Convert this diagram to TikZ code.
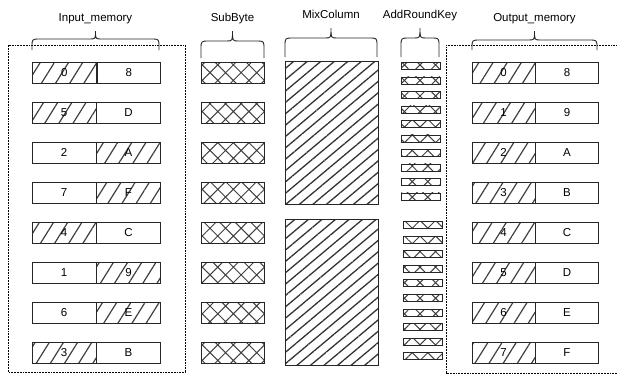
\documentclass[tikz,border=0pt]{standalone}
\usepackage{fontspec}
\setmainfont{Liberation Sans}
\usetikzlibrary{patterns.meta, positioning}

\tikzset{
  cellbox/.style={draw=black!85, line width=0.8pt, minimum width=63.5pt, minimum height=20.5pt, inner sep=0pt, anchor=north west},
  diaghatch/.style={pattern={Lines[angle=58, distance=12pt, line width=1.2pt]}, pattern color=black!75},
  nohatch/.style={fill=white},
  xhatch/.style={pattern={Hatch[angle=45, distance=11pt, line width=1pt]}, pattern color=black!75},
  mixblock/.style={draw=black!85, line width=0.8pt, minimum width=93pt, inner sep=0pt, anchor=north west,
    pattern={Lines[angle=40, distance=8.7pt, line width=1.3pt]}, pattern color=black!80},
  keycell/.style={draw=black!85, line width=0.8pt, xhatch, minimum width=38.5pt, minimum height=7pt, inner sep=0pt, anchor=north west},
  memframe/.style={draw=black, line width=0.6pt, dash pattern=on 1.8pt off 1pt},
  bracestroke/.style={draw=black!85, line width=0.9pt},
  stagelabel/.style={anchor=base},
}

% brace over a stage: x1, x2, y of the ends, y of the flat part, y of the tip, label name, text
\newcommand{\stagebrace}[7]{%
  \draw[bracestroke] (#1,#3) -- (#1,#4+8) .. controls (#1,#4) .. (#1+8,#4)
    -- ({(#1+#2)/2-6},#4) .. controls ({(#1+#2)/2},#4) .. ({(#1+#2)/2},#5)
    .. controls ({(#1+#2)/2},#4) .. ({(#1+#2)/2+6},#4)
    -- (#2-8,#4) .. controls (#2,#4) .. (#2,#4+8) -- (#2,#3);
  \node[stagelabel] (#6) at ({(#1+#2)/2},#5-10) {#7};%
}

\begin{document}
\begin{tikzpicture}[x=1pt, y=-1pt, every node/.style={font=\fontsize{11.5}{13}\selectfont}]

\useasboundingbox (0,0) rectangle (617,376);

% --- memory frames ---
\draw[memframe] (8,45) rectangle (185,372);
\draw[memframe] (618,45) -- (446,45) -- (446,373) -- (618,373);

% --- input memory ---
\foreach \l/\r/\sl/\sr [count=\i] in {
  0/8/diaghatch/nohatch, 5/D/diaghatch/nohatch,
  2/A/nohatch/diaghatch, 7/F/nohatch/diaghatch,
  4/C/diaghatch/nohatch, 1/9/nohatch/diaghatch,
  6/E/nohatch/diaghatch, 3/B/diaghatch/nohatch}
{
  \node[cellbox, \sl] (in-\i-l) at (32, 22+40*\i) {\l};
  \node[cellbox, \sr, right=0pt of in-\i-l] (in-\i-r) {\r};
}

% --- SubByte ---
\foreach \i in {1,...,8}
{
  \node[cellbox, xhatch, minimum width=63pt] (sb-\i) at (201, 22+40*\i) {};
}

% --- MixColumn ---
\node[mixblock, minimum height=143pt] (mc-1) at (285,61) {};
\node[mixblock, minimum height=146pt] (mc-2) at (285,219) {};

% --- AddRoundKey ---
\foreach \i in {0,...,9}
{
  \node[keycell] (ark-a\i) at (401, 62+14.5*\i) {};
  \node[keycell] (ark-b\i) at (403, 221+14.6*\i) {};
}

% --- output memory ---
\foreach \l/\r [count=\i] in {0/8, 1/9, 2/A, 3/B, 4/C, 5/D, 6/E, 7/F}
{
  \node[cellbox, diaghatch, minimum width=62.5pt] (out-\i-l) at (472, 22+40*\i) {\l};
  \node[cellbox, nohatch, minimum width=62.5pt, right=0pt of out-\i-l] (out-\i-r) {\r};
}

% --- braces and stage names ---
\stagebrace{32}{159}{50}{39}{31}{lbl-in}{Input\_memory}
\stagebrace{201}{264}{58}{41}{31}{lbl-sb}{SubByte}
\stagebrace{285}{377}{57}{38}{28}{lbl-mc}{MixColumn}
\stagebrace{401}{439}{57}{38}{28}{lbl-ark}{AddRoundKey}
\stagebrace{472}{597}{50}{40}{31}{lbl-out}{Output\_memory}

\end{tikzpicture}
\end{document}
